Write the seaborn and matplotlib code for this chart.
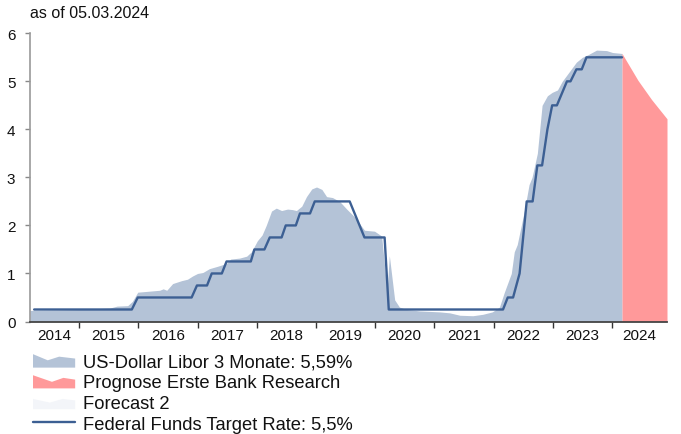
import matplotlib
matplotlib.use("Agg")
import matplotlib.pyplot as plt
import seaborn as sns
import numpy as np
import pandas as pd
from matplotlib.patches import Patch, Polygon
from matplotlib.lines import Line2D
from matplotlib.legend_handler import HandlerBase

# ---------------- data (decimal years) ----------------
libor_years = [2014.17, 2015.0, 2015.52, 2015.64, 2015.82, 2015.9, 2015.99, 2016.36, 2016.42,
               2016.48, 2016.58, 2016.73, 2016.83, 2016.92, 2017.0, 2017.09, 2017.2, 2017.34,
               2017.49, 2017.56, 2017.71, 2017.83, 2017.91, 2018.01, 2018.09, 2018.16, 2018.25,
               2018.33, 2018.42, 2018.52, 2018.6, 2018.67, 2018.76, 2018.84, 2018.93, 2019.01,
               2019.1, 2019.18, 2019.28, 2019.4, 2019.52, 2019.65, 2019.82, 2019.99, 2020.11,
               2020.18, 2020.21, 2020.24, 2020.33, 2020.41, 2020.53, 2020.75, 2021.09, 2021.26,
               2021.43, 2021.65, 2021.82, 2021.98, 2022.1, 2022.18, 2022.3, 2022.35, 2022.4,
               2022.52, 2022.6, 2022.65, 2022.74, 2022.82, 2022.91, 2022.99, 2023.08, 2023.16,
               2023.28, 2023.4, 2023.5, 2023.59, 2023.74, 2023.91, 2024.01, 2024.17]
libor_values = [0.23, 0.25, 0.28, 0.32, 0.33, 0.42, 0.61, 0.65, 0.68,
                0.65, 0.79, 0.85, 0.88, 0.95, 1.0, 1.02, 1.1, 1.15,
                1.21, 1.3, 1.32, 1.36, 1.45, 1.68, 1.8, 2.0, 2.3,
                2.36, 2.31, 2.34, 2.33, 2.31, 2.4, 2.6, 2.76, 2.8,
                2.75, 2.6, 2.58, 2.5, 2.34, 2.18, 1.9, 1.88, 1.78,
                0.9, 0.8, 1.37, 0.45, 0.3, 0.25, 0.22, 0.2, 0.18,
                0.13, 0.12, 0.15, 0.2, 0.3, 0.6, 1.0, 1.45, 1.6,
                2.3, 2.85, 3.0, 3.5, 4.5, 4.7, 4.77, 4.82, 5.0,
                5.2, 5.4, 5.5, 5.55, 5.65, 5.64, 5.6, 5.58]

forecast_years = [2024.17, 2024.44, 2024.67, 2024.93]
forecast_values = [5.58, 5.02, 4.62, 4.22]

fed_years = [2014.24, 2015.89, 2015.99, 2016.9, 2016.99, 2017.16, 2017.24, 2017.41, 2017.49,
             2017.9, 2017.96, 2018.13, 2018.22, 2018.42, 2018.49, 2018.66, 2018.73, 2018.9,
             2018.98, 2019.57, 2019.82, 2020.16, 2020.23, 2022.16, 2022.24, 2022.33, 2022.44,
             2022.56, 2022.66, 2022.74, 2022.82, 2022.91, 2022.99, 2023.07, 2023.24, 2023.3,
             2023.4, 2023.49, 2023.57, 2024.17]
fed_values = [0.25, 0.25, 0.5, 0.5, 0.75, 0.75, 1.0, 1.0, 1.25,
              1.25, 1.5, 1.5, 1.75, 1.75, 2.0, 2.0, 2.25, 2.25,
              2.5, 2.5, 1.75, 1.75, 0.25, 0.25, 0.5, 0.5, 1.0,
              2.5, 2.5, 3.25, 3.25, 4.0, 4.5, 4.5, 5.0, 5.0,
              5.25, 5.25, 5.5, 5.5]

year_labels = ["2014", "2015", "2016", "2017", "2018", "2019", "2020", "2021", "2022", "2023", "2024"]
y_ticks = [0, 1, 2, 3, 4, 5, 6]

legend_labels = ["US-Dollar Libor 3 Monate: 5,59%", "Prognose Erste Bank Research",
                 "Forecast 2", "Federal Funds Target Rate: 5,5%"]

# ---------------- style ----------------
BLUE_AREA = "#b4c3d7"
RED_AREA = "#ff999a"
LIGHT_AREA = "#f3f5f9"
LINE = "#3c5f93"

sns.set_style("white")
plt.rcParams["font.family"] = ["Liberation Sans", "DejaVu Sans"]

fig = plt.figure(figsize=(6.81, 4.35), dpi=100)
ax = fig.add_axes([30 / 681, 1 - 322.5 / 435, (667 - 30) / 681, (322.5 - 34.3) / 435])

x_min, x_max = libor_years[0], forecast_years[-1]

ax.fill_between(libor_years, libor_values, 0, color=BLUE_AREA, linewidth=0)
ax.fill_between(forecast_years, forecast_values, 0, color=RED_AREA, linewidth=0)

df_fed = pd.DataFrame({"year": fed_years, "rate": fed_values})
sns.lineplot(data=df_fed, x="year", y="rate", ax=ax, color=LINE, linewidth=1.7,
             estimator=None, sort=False)

ax.set_xlim(x_min, x_max)
ax.set_ylim(0, 6)
ax.set_xlabel("")
ax.set_ylabel("")

# year boundary ticks (no label), year labels centred in the visible part of each year
first_year = int(year_labels[0])
boundaries = [first_year + i for i in range(1, len(year_labels))]
centres = []
for lab in year_labels:
    y0 = max(int(lab), x_min)
    y1 = min(int(lab) + 1, x_max)
    centres.append((y0 + y1) / 2)
ax.set_xticks(boundaries)
ax.set_xticklabels([])
ax.set_xticks(centres, minor=True)
ax.set_xticklabels(year_labels, minor=True)
ax.tick_params(axis="x", which="major", direction="out", length=4.5, width=1, color="#333333",
               bottom=True)
ax.tick_params(axis="x", which="minor", length=0, pad=5, labelsize=11, labelcolor="#111111")

ax.set_yticks(y_ticks)
ax.set_yticklabels([str(v) for v in y_ticks])
ax.tick_params(axis="y", direction="out", length=3.5, width=1, color="#888888", left=True,
               pad=7, labelsize=11, labelcolor="#111111")

for s in ["top", "right"]:
    ax.spines[s].set_visible(False)
ax.spines["left"].set_color("#999999")
ax.spines["left"].set_linewidth(1.2)
ax.spines["bottom"].set_color("#444444")
ax.spines["bottom"].set_linewidth(1.3)

fig.text(30 / 681, 1 - 14 / 435, "as of 05.03.2024", fontsize=11.5, color="#111111",
         ha="left", va="center")


# ---------------- legend with area-shaped icons ----------------
class AreaIconHandler(HandlerBase):
    def __init__(self, shape):
        super().__init__()
        self.shape = shape

    def create_artists(self, legend, orig_handle, xdescent, ydescent, width, height,
                       fontsize, trans):
        pts = [(-xdescent + px * width, -ydescent + py * height) for px, py in self.shape]
        poly = Polygon(pts, closed=True, facecolor=orig_handle.get_facecolor(),
                       edgecolor="none", transform=trans)
        return [poly]


blue_shape = [(0, 0), (0, 0.92), (0.35, 0.5), (0.62, 0.75), (1.0, 0.62), (1.0, 0)]
red_shape = [(0, 0), (0, 0.9), (0.45, 0.45), (0.72, 0.72), (1.0, 0.6), (1.0, 0)]
light_shape = [(0, 0), (0, 0.7), (0.4, 0.45), (0.7, 0.7), (1.0, 0.6), (1.0, 0)]

h_blue = Patch(facecolor=BLUE_AREA)
h_red = Patch(facecolor=RED_AREA)
h_light = Patch(facecolor=LIGHT_AREA)
h_line = Line2D([0], [0], color=LINE, linewidth=1.7)

leg = fig.legend([h_blue, h_red, h_light, h_line], legend_labels,
                 loc="upper left", bbox_to_anchor=(33 / 681, 1 - 354 / 435),
                 frameon=False, fontsize=13.2, handlelength=2.3, handleheight=0.85,
                 handletextpad=0.45, labelspacing=0.17, borderpad=0, borderaxespad=0,
                 handler_map={h_blue: AreaIconHandler(blue_shape),
                              h_red: AreaIconHandler(red_shape),
                              h_light: AreaIconHandler(light_shape)})
for t in leg.get_texts():
    t.set_color("#111111")

fig.savefig("out.png", dpi=100)
